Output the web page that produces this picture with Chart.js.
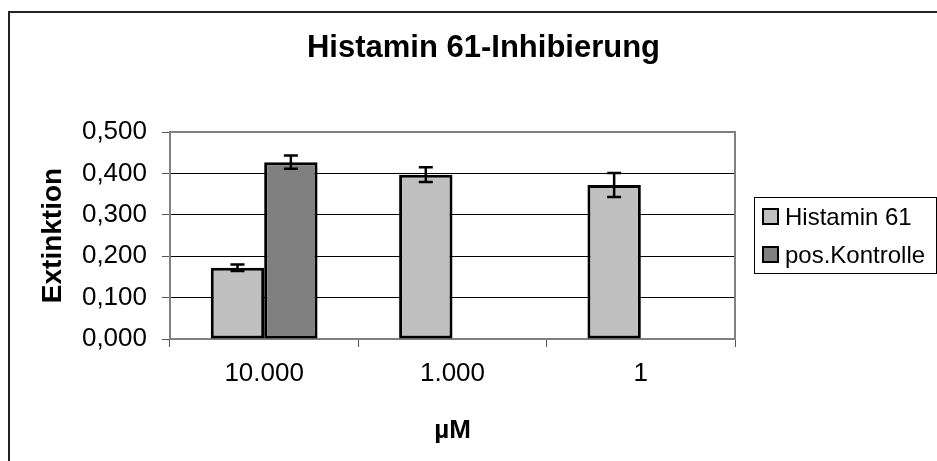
<!DOCTYPE html>
<html>
<head>
<meta charset="utf-8">
<script src="https://cdn.jsdelivr.net/npm/chart.js@4.4.1/dist/chart.umd.min.js"></script>
<style>
  html, body { margin: 0; padding: 0; background: #fff; }
  canvas { display: block; }
</style>
</head>
<body>
<canvas id="histChart" width="937" height="461"></canvas>
<script>
// data
var categories = ['10.000', '1.000', '1'];
var histaminValues = [0.172, 0.397, 0.372];
var histaminErrors = [0.008, 0.018, 0.029];
var kontrolleValues = [0.427, null, null];
var kontrolleErrors = [0.016, null, null];
var yTicks = [0, 0.1, 0.2, 0.3, 0.4, 0.5];

Chart.defaults.font.family = "'Liberation Sans', Arial, sans-serif";
Chart.defaults.color = '#000';

// outer frame + plot frame
var framePlugin = {
    id: 'frame',
    beforeDraw: function(chart) {
        var ctx = chart.ctx;
        ctx.save();
        ctx.fillStyle = '#fff';
        ctx.fillRect(0, 0, chart.width, chart.height);
        ctx.strokeStyle = '#222';
        ctx.lineWidth = 2;
        ctx.strokeRect(9, 12, chart.width + 20, chart.height + 20);
        ctx.restore();
    },
    beforeDatasetsDraw: function(chart) {
        var a = chart.chartArea, ctx = chart.ctx;
        ctx.save();
        ctx.strokeStyle = '#808080';
        ctx.lineWidth = 2;
        ctx.strokeRect(a.left, a.top, a.right - a.left, a.bottom - a.top);
        ctx.restore();
    }
};

// error bars
var errorBarPlugin = {
    id: 'errorBars',
    afterDatasetsDraw: function(chart) {
        var ctx = chart.ctx, y = chart.scales.y;
        ctx.save();
        ctx.strokeStyle = '#000';
        ctx.lineWidth = 2.5;
        chart.data.datasets.forEach(function(ds, i) {
            var meta = chart.getDatasetMeta(i);
            meta.data.forEach(function(bar, j) {
                var v = ds.data[j], e = ds.errors[j];
                if (v == null || e == null) return;
                var top = y.getPixelForValue(v + e), bot = y.getPixelForValue(v - e);
                ctx.beginPath();
                ctx.moveTo(bar.x, top); ctx.lineTo(bar.x, bot);
                ctx.moveTo(bar.x - 7, top); ctx.lineTo(bar.x + 7, top);
                ctx.moveTo(bar.x - 7, bot); ctx.lineTo(bar.x + 7, bot);
                ctx.stroke();
            });
        });
        ctx.restore();
    }
};

// boxed legend on the right
var boxLegendPlugin = {
    id: 'boxLegend',
    afterDraw: function(chart) {
        var ctx = chart.ctx, a = chart.chartArea;
        var x0 = a.right + 19, y0 = 197, w = 182, h = 76;
        ctx.save();
        ctx.strokeStyle = '#000';
        ctx.lineWidth = 1;
        ctx.strokeRect(x0 + 0.5, y0 + 0.5, w, h);
        ctx.font = "24px 'Liberation Sans', Arial, sans-serif";
        ctx.textBaseline = 'middle';
        chart.data.datasets.forEach(function(ds, i) {
            var cy = y0 + 20 + i * 38;
            ctx.fillStyle = ds.backgroundColor;
            ctx.fillRect(x0 + 9, cy - 8, 15, 15);
            ctx.lineWidth = 2;
            ctx.strokeRect(x0 + 9, cy - 8, 15, 15);
            ctx.fillStyle = '#000';
            ctx.fillText(ds.label, x0 + 31, cy + 1);
        });
        ctx.restore();
    }
};

var ctx = document.getElementById('histChart').getContext('2d');
var histChart = new Chart(ctx, {
    type: 'bar',
    data: {
        labels: categories,
        datasets: [{
            label: 'Histamin 61',
            data: histaminValues,
            errors: histaminErrors,
            backgroundColor: '#C0C0C0',
            borderColor: '#000',
            borderWidth: 3,
            borderSkipped: false
        }, {
            label: 'pos.Kontrolle',
            data: kontrolleValues,
            errors: kontrolleErrors,
            backgroundColor: '#808080',
            borderColor: '#000',
            borderWidth: 3,
            borderSkipped: false
        }]
    },
    options: {
        responsive: false,
        animation: false,
        devicePixelRatio: 1,
        categoryPercentage: 0.567,
        barPercentage: 1,
        layout: { padding: { left: 30, right: 0, top: 0, bottom: 0 } },
        plugins: {
            legend: { display: false },
            tooltip: { enabled: false },
            title: {
                display: true,
                text: 'Histamin 61-Inhibierung',
                color: '#000',
                font: { size: 31, weight: 'bold' },
                padding: { top: 30, bottom: 64.8 }
            }
        },
        scales: {
            x: {
                grid: { drawOnChartArea: false, drawTicks: true, tickLength: 8, color: '#555', offset: true },
                border: { color: '#808080', width: 2 },
                ticks: { font: { size: 26 }, color: '#000', padding: 11, maxRotation: 0, autoSkip: false },
                title: { display: true, text: 'µM', font: { size: 26, weight: 'bold' }, color: '#000', padding: { top: 0, bottom: 15 } },
                afterFit: function(s) { s.height = 122; }
            },
            y: {
                min: 0,
                max: 0.5,
                afterBuildTicks: function(s) { s.ticks = yTicks.map(function(v) { return { value: v }; }); },
                grid: { color: '#000', lineWidth: 1, tickLength: 8, tickColor: '#555' },
                border: { color: '#808080', width: 2 },
                ticks: {
                    font: { size: 26 },
                    color: '#000',
                    padding: 15,
                    callback: function(v) { return v.toFixed(3).replace('.', ','); }
                },
                title: { display: true, text: 'Extinktion', font: { size: 28, weight: 'bold' }, color: '#000', padding: { top: 6, bottom: 0 } },
                afterFit: function(s) { s.width = 140; }
            },
            pad: {
                type: 'linear',
                position: 'right',
                display: true,
                grid: { display: false },
                border: { display: false },
                ticks: { display: false },
                afterFit: function(s) { s.width = 202; }
            }
        }
    },
    plugins: [framePlugin, errorBarPlugin, boxLegendPlugin]
});
</script>
</body>
</html>
